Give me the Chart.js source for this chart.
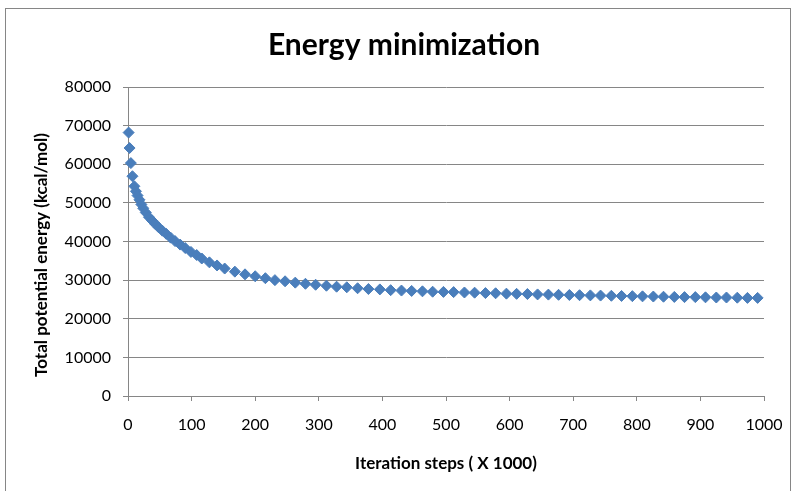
<!DOCTYPE html>
<html>
<head>
<meta charset="utf-8">
<title>Energy minimization</title>
<script src="https://cdn.jsdelivr.net/npm/chart.js@4.4.1/dist/chart.umd.min.js"></script>
<style>
  html, body { margin: 0; padding: 0; background: #fff; }
  #wrap { position: relative; width: 797px; height: 491px; }
</style>
</head>
<body>
<div id="wrap"><canvas id="energy"></canvas></div>
<script>
// iteration step (x 1000) and total potential energy (kcal/mol)
const steps = [
  1, 2.5, 4.5, 7, 10, 12.5, 15, 18, 21, 24,
  28, 33, 38, 43, 48, 54, 60, 67, 74, 82,
  90, 99, 108, 116, 128, 140, 152, 168, 184, 200,
  216, 231, 247, 263, 279, 295, 312, 328, 344, 361,
  378, 396, 413, 430, 446, 463, 479, 496, 512, 529,
  545, 562, 578, 595, 611, 628, 644, 661, 677, 694,
  710, 727, 743, 760, 776, 793, 809, 826, 842, 859,
  875, 892, 908, 925, 941, 958, 974, 990
];
const energy = [
  68200, 64200, 60300, 56900, 54300, 53000, 51900, 50800, 49600, 48600,
  47500, 46300, 45400, 44500, 43700, 42800, 42000, 41000, 40100, 39200,
  38300, 37300, 36500, 35600, 34600, 33800, 33000, 32200, 31500, 31000,
  30500, 30000, 29700, 29350, 29050, 28800, 28550, 28300, 28150, 27900,
  27700, 27600, 27400, 27300, 27200, 27100, 27000, 26950, 26900, 26800,
  26750, 26650, 26600, 26500, 26450, 26400, 26300, 26250, 26200, 26150,
  26100, 26050, 26000, 25950, 25900, 25850, 25800, 25750, 25700, 25650,
  25600, 25600, 25550, 25500, 25500, 25450, 25400, 25400
];
const xTicks = [0, 100, 200, 300, 400, 500, 600, 700, 800, 900, 1000];
const yTicks = [0, 10000, 20000, 30000, 40000, 50000, 60000, 70000, 80000];

const FONT = 'Lato, "Open Sans", sans-serif';
const GREY = '#868686';

// outer frame, heading and the rotated y-axis caption
const frame = {
  id: 'frame',
  afterDraw(chart) {
    const ctx = chart.ctx;
    ctx.save();
    ctx.strokeStyle = GREY;
    ctx.lineWidth = 1;
    ctx.strokeRect(5.5, 8.5, 785, 500);
    ctx.fillStyle = '#000';
    ctx.textAlign = 'center';
    ctx.textBaseline = 'middle';
    ctx.font = 'bold 30px ' + FONT;
    ctx.fillText('Energy minimization', 404, 45);
    ctx.translate(42, 255);
    ctx.rotate(-Math.PI / 2);
    ctx.font = 'bold 17px ' + FONT;
    ctx.fillText('Total potential energy (kcal/mol)', 0, 0);
    ctx.restore();
  }
};

const points = steps.map((s, i) => ({ x: s, y: energy[i] }));

new Chart(document.getElementById('energy'), {
  type: 'scatter',
  data: {
    datasets: [{
      data: points,
      pointStyle: 'rectRot',
      pointRadius: 5.5,
      pointHoverRadius: 5.5,
      backgroundColor: '#4A7EBB',
      borderColor: '#4A7EBB',
      borderWidth: 1,
      clip: false
    }]
  },
  options: {
    responsive: true,
    maintainAspectRatio: false,
    animation: false,
    layout: { padding: { top: 87, right: 33, left: 0, bottom: 0 } },
    plugins: {
      legend: { display: false },
      tooltip: { enabled: false }
    },
    scales: {
      x: {
        type: 'linear',
        min: 0,
        max: 1000,
        afterFit: s => { s.height = 95; },
        afterBuildTicks: s => { s.ticks = xTicks.map(v => ({ value: v })); },
        grid: { drawOnChartArea: false, drawTicks: true, tickLength: 5, color: GREY },
        border: { display: true, color: GREY },
        ticks: { color: '#000', padding: 14, font: { family: FONT, size: 16 }, maxRotation: 0, callback: v => String(v) },
        title: {
          display: true,
          text: 'Iteration steps ( X 1000)',
          color: '#000',
          font: { family: FONT, size: 17, weight: 'bold' },
          padding: { top: 0, bottom: 17 }
        }
      },
      y: {
        type: 'linear',
        min: 0,
        max: 80000,
        afterFit: s => { s.width = 128; },
        afterBuildTicks: s => { s.ticks = yTicks.map(v => ({ value: v })); },
        grid: { drawTicks: true, tickLength: 5, color: GREY },
        border: { display: true, color: GREY },
        ticks: { color: '#000', padding: 12, font: { family: FONT, size: 16 }, callback: v => String(v) }
      }
    }
  },
  plugins: [frame]
});
</script>
</body>
</html>
